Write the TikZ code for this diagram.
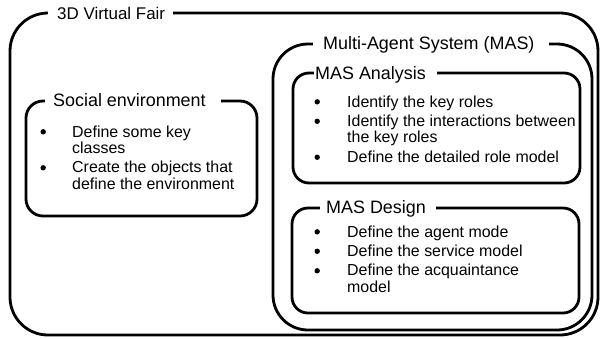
\documentclass[tikz,border=0pt]{standalone}
\usepackage{fontspec}
\setmainfont{Liberation Sans}
\newcommand{\bigdot}{\tikz[x=1bp,y=1bp,baseline=0pt]{\path (0,0); \fill[black] (4.2,5.2) circle (2.7);}}
\begin{document}
\begin{tikzpicture}[x=1bp,y=-1bp,
  frame/.style={draw=black, line width=2.8bp, inner sep=0pt, outer sep=0pt},
  titlebox/.style={fill=white, inner xsep=0pt, inner ysep=1bp, anchor=base west,
    font=\fontsize{18}{20}\selectfont},
  listbox/.style={inner sep=0pt, anchor=base west, font=\fontsize{16}{16.5}\selectfont}
]
\useasboundingbox (0,0) rectangle (604,338);

% frames
\node[frame, rounded corners=38bp, minimum width=588bp, minimum height=322bp] (fair) at (304,174) {};
\node[frame, rounded corners=35bp, minimum width=319bp, minimum height=286bp] (mas) at (432.5,187) {};
\node[frame, rounded corners=16bp, minimum width=287bp, minimum height=110bp] (ana) at (436.5,128) {};
\node[frame, rounded corners=16bp, minimum width=287bp, minimum height=105bp] (des) at (435.5,260.5) {};
\node[frame, rounded corners=17bp, minimum width=231bp, minimum height=115bp] (soc) at (141.5,158.5) {};

% titles
\node[titlebox, font=\fontsize{17}{20}\selectfont] (fairt) at (48,19) {\hspace*{9bp}3D Virtual Fair\hspace*{8bp}};
\node[titlebox] (mast) at (313,49) {\hspace*{10bp}Multi-Agent System (MAS)\hspace*{15bp}};
\node[titlebox] (anat) at (314,79.5) {\hspace*{1bp}MAS Analysis\hspace*{11bp}};
\node[titlebox] (dest) at (320,213.5) {\hspace*{6bp}MAS Design\hspace*{10bp}};
\node[titlebox] (soct) at (45,106) {\hspace*{8bp}Social environment\hspace*{15bp}};

% lists
\node[listbox] (socl) at (38.8,137) {\begin{tabular}[t]{@{}l@{}l@{}}
\makebox[33.2bp][l]{\bigdot} & Define some key\\
 & classes\\[3bp]
\makebox[33.2bp][l]{\bigdot} & Create the objects that\\
 & define the environment
\end{tabular}};

\node[listbox] (anal) at (312.8,107) {\begin{tabular}[t]{@{}l@{}l@{}}
\makebox[34.2bp][l]{\bigdot} & Identify the key roles\\[3bp]
\makebox[34.2bp][l]{\bigdot} & Identify the interactions between\\
 & the key roles\\[3bp]
\makebox[34.2bp][l]{\bigdot} & Define the detailed role model
\end{tabular}};

\node[listbox] (desl) at (312.8,237) {\begin{tabular}[t]{@{}l@{}l@{}}
\makebox[34.2bp][l]{\bigdot} & Define the agent mode\\[3bp]
\makebox[34.2bp][l]{\bigdot} & Define the service model\\[3bp]
\makebox[34.2bp][l]{\bigdot} & Define the acquaintance\\
 & model
\end{tabular}};
\end{tikzpicture}
\end{document}
